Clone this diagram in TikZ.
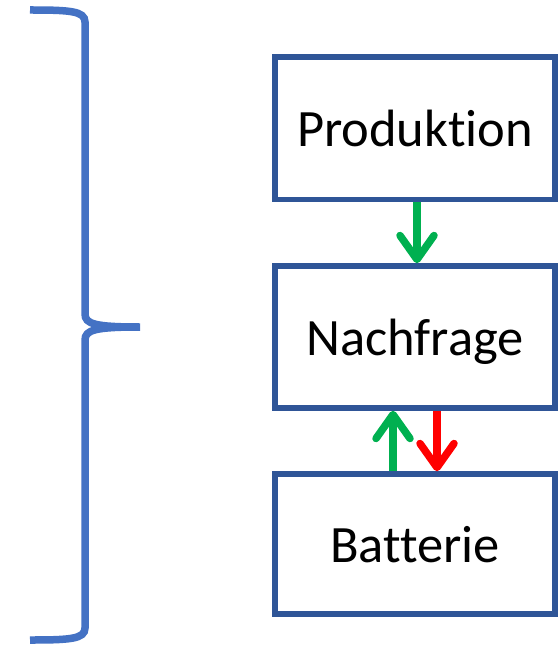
\documentclass[tikz,border=0pt]{standalone}
\usepackage{fontspec}
\setmainfont{Carlito}[Ligatures={NoCommon}]
\usetikzlibrary{arrows.meta}
\definecolor{boxblue}{HTML}{2F5597}
\definecolor{braceblue}{HTML}{4472C4}
\definecolor{arrgreen}{HTML}{00B050}
\definecolor{arrred}{HTML}{FF0000}
\begin{document}
\begin{tikzpicture}[x=1pt,y=-1pt,
  box/.style={draw=boxblue,line width=5.5pt,minimum width=280pt,inner sep=0pt,text depth=0pt,font=\fontsize{52.5}{60}\selectfont},
  flow/.style={line width=7.5pt,-{Straight Barb[length=24pt,width=34pt,round]}}]
\useasboundingbox (0,0) rectangle (558,647);
\node[box,minimum height=142.5pt] (P) at (415,128.25) {Produktion};
\node[box,minimum height=142pt] (N) at (415,337) {Nachfrage};
\node[box,minimum height=140pt] (B) at (415,544) {Batterie};
\draw[flow,arrgreen] ([xshift=2pt]P.south) -- ([xshift=2pt]N.north);
\draw[flow,arrgreen] ([xshift=-22pt]B.north) -- ([xshift=-22pt]N.south);
\draw[flow,arrred] ([xshift=22pt]N.south) -- ([xshift=22pt]B.north);
\coordinate (bt) at (30,10);
\coordinate (bm) at (140,327);
\coordinate (bb) at (30,640);
\draw[braceblue,line width=7.5pt] (bt) .. controls (70,10) and (85,11) .. (85,22) -- (85,314)
  .. controls (85,324) and (95,327) .. (bm)
  (bm) .. controls (95,327) and (85,330) .. (85,340) -- (85,628)
  .. controls (85,639) and (70,640) .. (bb);
\end{tikzpicture}
\end{document}
